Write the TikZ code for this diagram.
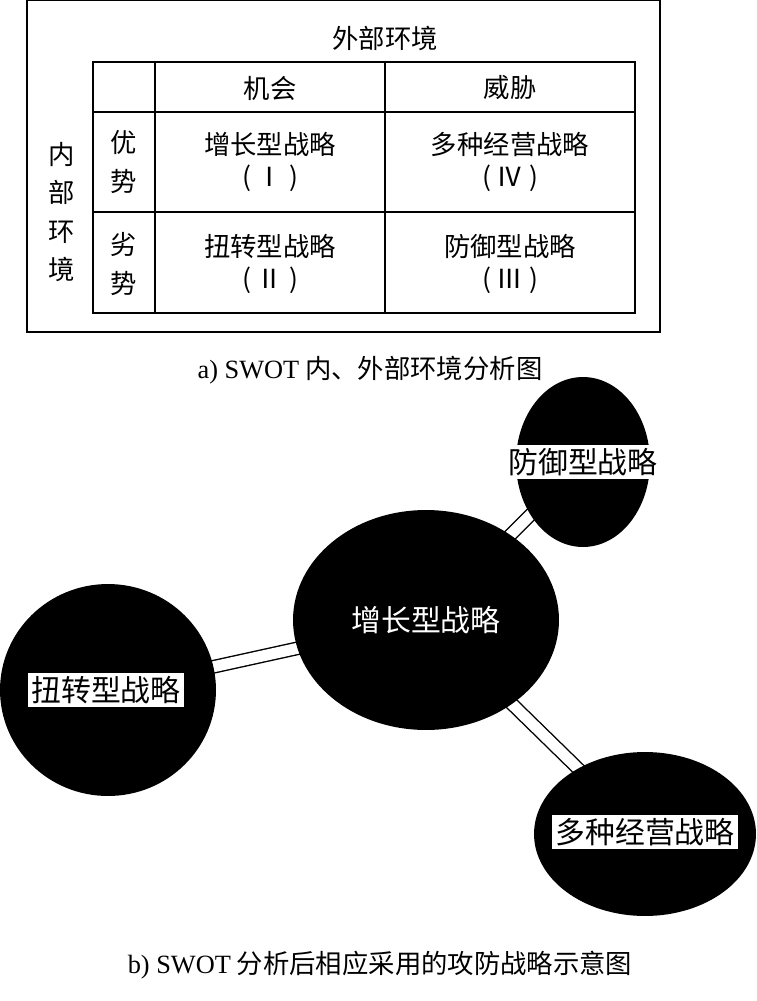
\documentclass[tikz,border=0pt]{standalone}
\usepackage{fontspec}
\setmainfont{Liberation Serif}
\newfontfamily\cjk{Noto Sans CJK SC}
\usetikzlibrary{positioning,shapes.geometric,backgrounds}

\begin{document}
\begin{tikzpicture}[x=0.02cm, y=-0.02cm,
    every node/.style={font=\cjk\fontsize{15}{18}\selectfont},
    blob/.style={ellipse, fill=black, inner sep=0pt},
    tag/.style={fill=white, inner sep=2pt, font=\cjk\fontsize{17}{20}\selectfont},
    link/.style={double, double distance=0.22cm, line width=0.8pt}]
        \useasboundingbox (0,0) rectangle (757,1001);

        % a) table
        \draw[line width=0.8pt] (27,0) rectangle (660,332);
        \draw[line width=0.8pt] (93,62) rectangle (635,313);
        \draw[line width=0.8pt] (93,112) -- (635,112);
        \draw[line width=0.8pt] (93,212) -- (635,212);
        \draw[line width=0.8pt] (155,62) -- (155,313);
        \draw[line width=0.8pt] (385,62) -- (385,313);
        \node (ext) at (385,38) {外部环境};
        \node[align=center, font=\cjk\fontsize{15}{22}\selectfont] (int) at (62,212) {内\\部\\环\\境};
        \node (opp) at (270,88) {机会};
        \node (thr) at (510,88) {威胁};
        \node[align=center, font=\cjk\fontsize{15}{22}\selectfont] (str) at (124,162) {优\\势};
        \node[align=center, font=\cjk\fontsize{15}{22}\selectfont] (wea) at (124,264) {劣\\势};
        \node[align=center] (q1) at (270,162) {增长型战略\\( Ⅰ )};
        \node[align=center] (q4) at (510,162) {多种经营战略\\( Ⅳ )};
        \node[align=center] (q2) at (270,264) {扭转型战略\\( Ⅱ )};
        \node[align=center] (q3) at (510,264) {防御型战略\\( Ⅲ )};
        \node (capa) at (370,370) {{\rmfamily a) SWOT} 内、外部环境分析图};

        % b) circles
        \node[blob, minimum width=5.32cm, minimum height=4.4cm] (grow) at (426,620) {};
        \node[blob, minimum width=2.68cm, minimum height=3.4cm] (defend) at (583,462) {};
        \node[blob, minimum width=4.32cm, minimum height=4.24cm] (turn) at (108,690) {};
        \node[blob, minimum width=4.44cm, minimum height=3.28cm] (multi) at (645,834) {};
        \node[text=white, font=\cjk\fontsize{17}{20}\selectfont] at (grow) {增长型战略};
        \node[tag] at (583,462) {防御型战略};
        \node[tag] at (106,690) {扭转型战略};
        \node[tag] at (645,832) {多种经营战略};

        % Connectors
        \begin{scope}[on background layer]
            \draw[link] (grow.center) -- (defend.center);
            \draw[link] (grow.center) -- (turn.center);
            \draw[link] (grow.center) -- (multi.center);
        \end{scope}

        \node (capb) at (380,965) {{\rmfamily b) SWOT} 分析后相应采用的攻防战略示意图};
    \end{tikzpicture}
\end{document}
